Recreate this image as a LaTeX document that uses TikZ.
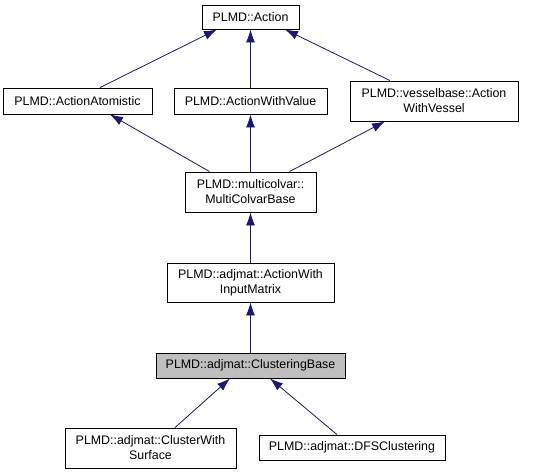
\documentclass[tikz,border=0pt]{standalone}
\usepackage{fontspec}
\setmainfont{Liberation Sans}
\usetikzlibrary{arrows.meta}
\definecolor{edgeblue}{HTML}{191970}
\definecolor{curgray}{HTML}{BFBFBF}
\begin{document}
\begin{tikzpicture}[x=1pt, y=-1pt, inner sep=0pt]
		\tikzstyle{every node}=[align=center, font=\fontsize{12.4}{15}\selectfont]
		\tikzstyle{cls}=[draw=black, fill=white, line width=0.9pt]
		\tikzstyle{inherit}=[draw=edgeblue, line width=0.8pt, -{Latex[length=13pt, width=9pt]}]
			\useasboundingbox (0, 0) rectangle (560, 475);
			\node[cls, minimum width=97pt, minimum height=24pt] (action) at (250.5, 17) {PLMD::Action};
			\node[cls, minimum width=149pt, minimum height=26pt] (atomistic) at (77.5, 101) {PLMD::ActionAtomistic};
			\node[cls, minimum width=153pt, minimum height=26pt] (withvalue) at (250.5, 101) {PLMD::ActionWithValue};
			\node[cls, minimum width=168pt, minimum height=40pt] (withvessel) at (434, 101) {PLMD::vesselbase::Action\\WithVessel};
			\node[cls, minimum width=131pt, minimum height=40pt] (multicolvar) at (250.5, 192) {PLMD::multicolvar::\\MultiColvarBase};
			\node[cls, minimum width=167pt, minimum height=39pt] (inputmatrix) at (250.5, 282.5) {PLMD::adjmat::ActionWith\\InputMatrix};
			\node[cls, fill=curgray, minimum width=189pt, minimum height=25pt] (clustering) at (250.5, 365.5) {PLMD::adjmat::ClusteringBase};
			\node[cls, minimum width=171pt, minimum height=40pt] (surface) at (150.5, 448) {PLMD::adjmat::ClusterWith\\Surface};
			\node[cls, minimum width=186pt, minimum height=25pt] (dfs) at (352, 447.5) {PLMD::adjmat::DFSClustering};

			\draw[inherit] ([xshift=22.5pt]atomistic.north) -- ([xshift=-33.5pt]action.south);
			\draw[inherit] (withvalue.north) -- (action.south);
			\draw[inherit] ([xshift=-44pt]withvessel.north) -- ([xshift=34.5pt]action.south);
			\draw[inherit] ([xshift=-41pt]multicolvar.north) -- ([xshift=32.5pt]atomistic.south);
			\draw[inherit] (multicolvar.north) -- (withvalue.south);
			\draw[inherit] ([xshift=39pt]multicolvar.north) -- ([xshift=-49pt]withvessel.south);
			\draw[inherit] (inputmatrix.north) -- (multicolvar.south);
			\draw[inherit] (clustering.north) -- (inputmatrix.south);
			\draw[inherit] ([xshift=24.5pt]surface.north) -- ([xshift=-20.5pt]clustering.south);
			\draw[inherit] ([xshift=-15pt]dfs.north) -- ([xshift=19.5pt]clustering.south);
		\end{tikzpicture}
\end{document}
